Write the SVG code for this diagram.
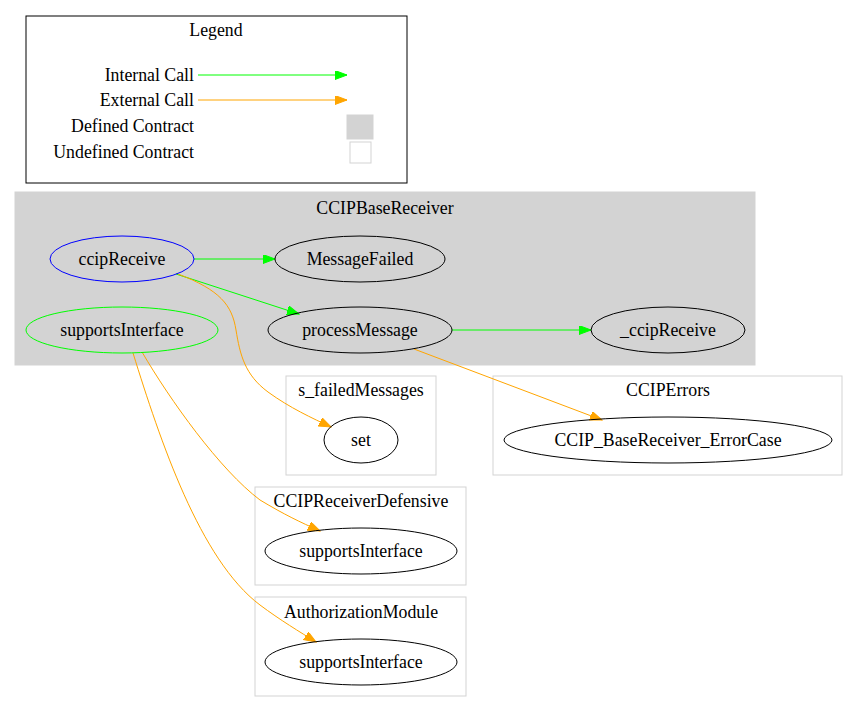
<svg xmlns="http://www.w3.org/2000/svg" width="858" height="713" viewBox="0 0 858 713" font-family="'Liberation Serif', 'Times New Roman', 'DejaVu Serif', serif">
<style>
text{font-family:'Liberation Serif','Times New Roman','DejaVu Serif',serif;font-size:17.8px;fill:#000}
.c{text-anchor:middle}
.r{text-anchor:end}
.n{fill:none;stroke:#000;stroke-width:1}
.cl{fill:none;stroke:#d3d3d3;stroke-width:1}
.g{fill:none;stroke:#00ff00;stroke-width:1}
.o{fill:none;stroke:#ffa500;stroke-width:1}
</style>
<defs>
<marker id="ag" markerUnits="userSpaceOnUse" markerWidth="13" markerHeight="10" refX="12" refY="4.5" orient="auto"><path d="M0,0 L12,4.5 L0,9 z" fill="#00ff00" stroke="#00ff00"/></marker>
<marker id="ao" markerUnits="userSpaceOnUse" markerWidth="13" markerHeight="10" refX="12" refY="4.5" orient="auto"><path d="M0,0 L12,4.5 L0,9 z" fill="#ffa500" stroke="#ffa500"/></marker>
</defs>
<rect width="858" height="713" fill="#fff"/>
<g id="legend">
<rect x="26" y="16" width="381" height="167" fill="#fff" stroke="#000"/>
<text class="c" x="216" y="36">Legend</text>
<text class="r" x="194" y="81">Internal Call</text>
<text class="r" x="194" y="106">External Call</text>
<text class="r" x="194" y="132">Defined Contract</text>
<text class="r" x="194" y="158">Undefined Contract</text>
<path class="g" d="M198,75 L347,75" marker-end="url(#ag)"/>
<path class="o" d="M198,100 L347,100" marker-end="url(#ao)"/>
<rect x="347" y="115" width="26" height="24" fill="#d3d3d3" stroke="#d3d3d3"/>
<rect x="350" y="142" width="21" height="21" fill="#fff" stroke="#d3d3d3"/>
</g>
<g id="cluster_CCIPBaseReceiver">
<rect x="15" y="192" width="740" height="173" fill="#d3d3d3" stroke="#d3d3d3"/>
<text class="c" x="385" y="214">CCIPBaseReceiver</text>
</g>
<g id="cluster_s_failedMessages">
<rect class="cl" x="286" y="376" width="150" height="99"/>
<text class="c" x="361" y="396">s_failedMessages</text>
</g>
<g id="cluster_CCIPErrors">
<rect class="cl" x="493" y="376" width="349" height="99"/>
<text class="c" x="668" y="396">CCIPErrors</text>
</g>
<g id="cluster_CCIPReceiverDefensive">
<rect class="cl" x="255" y="487" width="211" height="98"/>
<text class="c" x="361" y="507">CCIPReceiverDefensive</text>
</g>
<g id="cluster_AuthorizationModule">
<rect class="cl" x="255" y="597" width="211" height="99"/>
<text class="c" x="361" y="618">AuthorizationModule</text>
</g>
<g id="connectors">
<path class="g" d="M194,259 L275,259" marker-end="url(#ag)"/>
<path class="g" d="M176,274 L299,314" marker-end="url(#ag)"/>
<path class="g" d="M452,330 L591,330" marker-end="url(#ag)"/>
<path class="o" d="M178,274 C220,290 232,305 236,330 C240,355 245,375 268,392 C290,408 312,418 331,427" marker-end="url(#ao)"/>
<path class="o" d="M414,349 L602,420" marker-end="url(#ao)"/>
<path class="o" d="M142,352 C170,400 220,470 260,500 C285,515 300,522 320,531" marker-end="url(#ao)"/>
<path class="o" d="M133,353 C160,440 200,560 260,605 C280,620 300,632 316,642" marker-end="url(#ao)"/>
</g>
<g id="node_ccipReceive">
<ellipse cx="122" cy="259" rx="72" ry="23" fill="none" stroke="#0000ff"/>
<text class="c" x="122" y="265">ccipReceive</text>
</g>
<g id="node_MessageFailed">
<ellipse class="n" cx="360" cy="259" rx="85" ry="23"/>
<text class="c" x="360" y="265">MessageFailed</text>
</g>
<g id="node_supportsInterface">
<ellipse cx="122" cy="330" rx="96" ry="23" fill="none" stroke="#00ff00"/>
<text class="c" x="122" y="336">supportsInterface</text>
</g>
<g id="node_processMessage">
<ellipse class="n" cx="360" cy="330" rx="92" ry="23"/>
<text class="c" x="360" y="336">processMessage</text>
</g>
<g id="node__ccipReceive">
<ellipse class="n" cx="668" cy="330" rx="77" ry="23"/>
<text class="c" x="668" y="336">_ccipReceive</text>
</g>
<g id="node_set">
<ellipse class="n" cx="361" cy="440" rx="37" ry="23"/>
<text class="c" x="361" y="446">set</text>
</g>
<g id="node_ErrorCase">
<ellipse class="n" cx="668" cy="440" rx="164" ry="23"/>
<text class="c" x="668" y="446">CCIP_BaseReceiver_ErrorCase</text>
</g>
<g id="node_Defensive_supportsInterface">
<ellipse class="n" cx="361" cy="551" rx="96" ry="23"/>
<text class="c" x="361" y="557">supportsInterface</text>
</g>
<g id="node_Auth_supportsInterface">
<ellipse class="n" cx="361" cy="662" rx="96" ry="23"/>
<text class="c" x="361" y="668">supportsInterface</text>
</g>
</svg>
